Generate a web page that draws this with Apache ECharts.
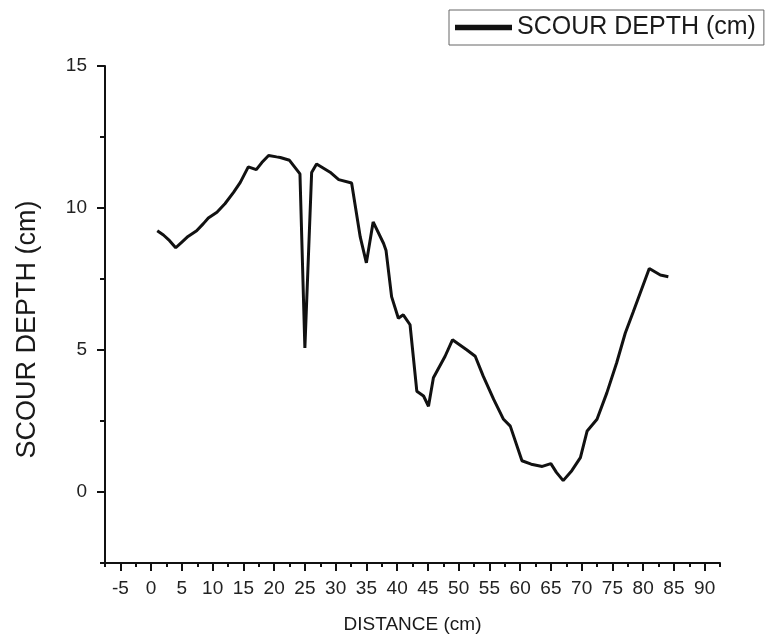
<!DOCTYPE html>
<html>
<head>
<meta charset="utf-8">
<script src="https://cdn.jsdelivr.net/npm/echarts@6/dist/echarts.min.js"></script>
<style>
  html, body { margin: 0; padding: 0; background: #fff; }
  #chart { width: 770px; height: 644px; }
</style>
</head>
<body>
<div id="chart"></div>
<script>
// Distance along the section (cm)
const distance = [1, 2, 3, 4, 5, 6, 7.4, 8.5, 9.3, 10.7, 12, 13.4, 14.5, 15.8, 17.1, 18, 19.1, 20.4, 21, 22.5, 24.2,
  25, 26.1, 26.9, 29.1, 30.5, 32.6, 34, 35, 36.1, 37.8, 38.2, 39.1, 40.2, 41, 42.1, 43.2, 44.3, 45.1, 45.9,
  47.8, 49, 51.3, 52.7, 54, 55.7, 57.3, 58.4, 60.3, 61.8, 63.6, 65, 65.9, 67, 68.4, 69.8, 70.9, 72.5, 74.1,
  75.7, 77.1, 78.4, 81, 82.8, 84.1];
// Scour depth (cm)
const scourDepth = [9.2, 9.05, 8.85, 8.6, 8.8, 9.0, 9.2, 9.45, 9.65, 9.85, 10.15, 10.55, 10.9, 11.45, 11.35, 11.6, 11.85, 11.8, 11.78, 11.68, 11.2,
  5.07, 11.25, 11.55, 11.26, 11.0, 10.88, 8.98, 8.07, 9.51, 8.75, 8.5, 6.88, 6.12, 6.24, 5.89, 3.55, 3.38, 3.02, 4.02,
  4.78, 5.36, 5.01, 4.78, 4.08, 3.26, 2.56, 2.32, 1.1, 0.98, 0.9, 1.0, 0.69, 0.4, 0.75, 1.21, 2.15, 2.56, 3.49,
  4.55, 5.6, 6.35, 7.87, 7.64, 7.58];

const xTickLabels = [-5, 0, 5, 10, 15, 20, 25, 30, 35, 40, 45, 50, 55, 60, 65, 70, 75, 80, 85, 90];
const yTickLabels = [0, 5, 10, 15];

const seriesName = 'SCOUR DEPTH (cm)';
const xTitle = 'DISTANCE (cm)';
const yTitle = 'SCOUR DEPTH (cm)';

const points = distance.map((d, i) => [d, scourDepth[i]]);

const FONT = '"Liberation Sans", Arial, sans-serif';
const chart = echarts.init(document.getElementById('chart'), null, { renderer: 'canvas' });

const xRange = { min: -7.5, max: 92.5 };
const yRange = { min: -2.5, max: 15 };

chart.setOption({
  animation: false,
  backgroundColor: '#fff',
  grid: { left: 105, right: 50, top: 66, bottom: 81, containLabel: false },
  legend: {
    left: 449, top: 10,
    padding: [5, 8, 5, 6],
    itemWidth: 57, itemHeight: 14, itemGap: 6,
    borderColor: '#666', borderWidth: 1,
    textStyle: { fontFamily: FONT, fontSize: 25, color: '#1a1a1a' },
    data: [{ name: seriesName, icon: 'path://M0,0 L10,0 L10,1 L0,1 Z' }]
  },
  xAxis: [
    {
      type: 'value', min: xRange.min, max: xRange.max,
      name: xTitle, nameLocation: 'middle', nameGap: 52,
      nameTextStyle: { fontFamily: FONT, fontSize: 19, color: '#1a1a1a' },
      axisLine: { show: true, onZero: false, lineStyle: { color: '#111', width: 2 } },
      axisTick: { show: true, inside: false, length: 8, customValues: xTickLabels, lineStyle: { color: '#111', width: 2 } },
      axisLabel: { show: true, margin: 16, customValues: xTickLabels, fontFamily: FONT, fontSize: 19, color: '#222' },
      splitLine: { show: false }
    },
    {
      type: 'value', min: xRange.min, max: xRange.max, interval: 2.5, position: 'bottom',
      axisLine: { show: false, onZero: false },
      axisTick: { show: true, length: 4, lineStyle: { color: '#111', width: 2 } },
      axisLabel: { show: false },
      splitLine: { show: false }
    }
  ],
  yAxis: [
    {
      type: 'value', min: yRange.min, max: yRange.max,
      name: yTitle, nameLocation: 'middle', nameGap: 64, nameRotate: 90,
      nameTextStyle: { fontFamily: FONT, fontSize: 27, color: '#1a1a1a', padding: [0, 30, 0, 0] },
      axisLine: { show: true, onZero: false, lineStyle: { color: '#111', width: 2 } },
      axisTick: { show: true, inside: false, length: 8, customValues: yTickLabels, lineStyle: { color: '#111', width: 2 } },
      axisLabel: { show: true, margin: 18, customValues: yTickLabels, fontFamily: FONT, fontSize: 19, color: '#222' },
      splitLine: { show: false }
    },
    {
      type: 'value', min: yRange.min, max: yRange.max, interval: 2.5, position: 'left',
      axisLine: { show: false, onZero: false },
      axisTick: { show: true, length: 5, lineStyle: { color: '#111', width: 2 } },
      axisLabel: { show: false },
      splitLine: { show: false }
    }
  ],
  series: [{
    name: seriesName,
    type: 'line',
    xAxisIndex: 0, yAxisIndex: 0,
    data: points,
    symbol: 'none',
    showSymbol: false,
    lineStyle: { color: '#111', width: 3 },
    itemStyle: { color: '#111' },
    silent: true
  }]
});
</script>
</body>
</html>
